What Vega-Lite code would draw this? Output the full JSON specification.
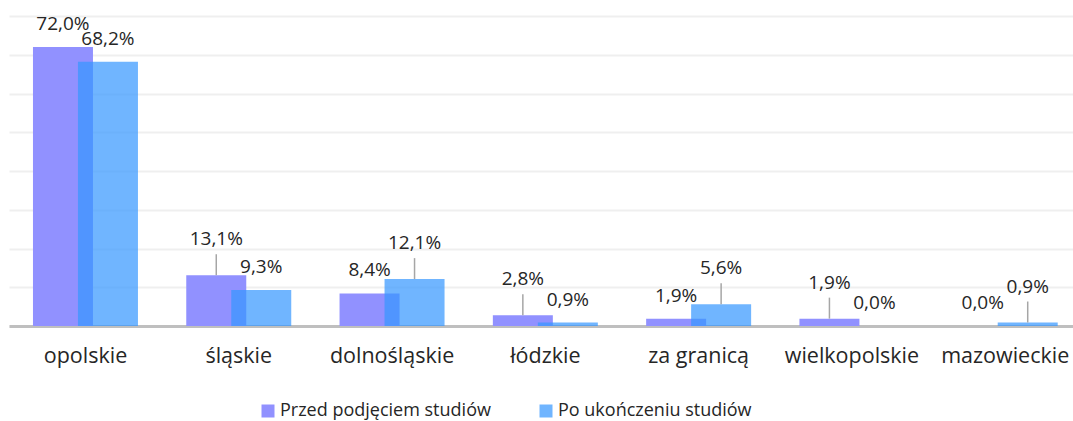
{
  "$schema": "https://vega.github.io/schema/vega-lite/v6.json",
  "width": 1064,
  "height": 310,
  "autosize": {"type": "none"},
  "padding": {"left": 9, "top": 16, "right": 0, "bottom": 95},
  "config": {
    "view": {"stroke": null},
    "font": "Open Sans",
    "locale": {"number": {"decimal": ",", "thousands": " ", "grouping": [3], "currency": ["", " zł"]}}
  },
  "data": {
    "values": [
      {"region": "opolskie", "series": "Przed podjęciem studiów", "value": 0.720},
      {"region": "śląskie", "series": "Przed podjęciem studiów", "value": 0.131},
      {"region": "dolnośląskie", "series": "Przed podjęciem studiów", "value": 0.084},
      {"region": "łódzkie", "series": "Przed podjęciem studiów", "value": 0.028},
      {"region": "za granicą", "series": "Przed podjęciem studiów", "value": 0.019},
      {"region": "wielkopolskie", "series": "Przed podjęciem studiów", "value": 0.019},
      {"region": "mazowieckie", "series": "Przed podjęciem studiów", "value": 0.000},
      {"region": "opolskie", "series": "Po ukończeniu studiów", "value": 0.682},
      {"region": "śląskie", "series": "Po ukończeniu studiów", "value": 0.093},
      {"region": "dolnośląskie", "series": "Po ukończeniu studiów", "value": 0.121},
      {"region": "łódzkie", "series": "Po ukończeniu studiów", "value": 0.009},
      {"region": "za granicą", "series": "Po ukończeniu studiów", "value": 0.056},
      {"region": "wielkopolskie", "series": "Po ukończeniu studiów", "value": 0.000},
      {"region": "mazowieckie", "series": "Po ukończeniu studiów", "value": 0.009}
    ]
  },
  "encoding": {
    "x": {
      "field": "region",
      "type": "nominal",
      "sort": null,
      "scale": {"paddingInner": 0.413, "paddingOuter": 0.177, "align": 0.58},
      "axis": {
        "title": null,
        "labelAngle": 0,
        "ticks": false,
        "labelFontSize": 21.5,
        "labelColor": "#262626",
        "labelPadding": 19,
        "domainColor": "#bfbfbf",
        "domainWidth": 3,
        "grid": false
      }
    },
    "xOffset": {
      "field": "series",
      "type": "nominal",
      "sort": ["Przed podjęciem studiów", "Po ukończeniu studiów"],
      "scale": {"paddingInner": 0, "paddingOuter": 0}
    },
    "y": {
      "field": "value",
      "type": "quantitative",
      "scale": {"domain": [0, 0.8]},
      "axis": {
        "values": [0, 0.1, 0.2, 0.3, 0.4, 0.5, 0.6, 0.7, 0.8],
        "labels": false,
        "ticks": false,
        "domain": false,
        "title": null,
        "gridColor": "#efefef",
        "gridWidth": 2
      }
    }
  },
  "layer": [
    {
      "mark": {"type": "bar", "width": 60},
      "encoding": {
        "color": {
          "field": "series",
          "type": "nominal",
          "sort": ["Przed podjęciem studiów", "Po ukończeniu studiów"],
          "scale": {"range": ["#9191ff", "rgba(54,151,255,0.71)"]},
          "legend": {
            "title": null,
            "orient": "none",
            "legendX": 250,
            "legendY": 386,
            "direction": "horizontal",
            "symbolType": "square",
            "symbolSize": 169,
            "symbolStrokeWidth": 0,
            "labelOffset": 3,
            "labelFontSize": 18,
            "labelColor": "#262626",
            "labelLimit": 400,
            "columnPadding": 46
          }
        }
      }
    },
    {
      "transform": [
        {"joinaggregate": [{"op": "max", "field": "value", "as": "maxv"}], "groupby": ["region"]},
        {"filter": "datum.value === datum.maxv && datum.value < 0.5"}
      ],
      "mark": {"type": "rule", "color": "#a6a6a6", "strokeWidth": 1.5, "y2Offset": -21},
      "encoding": {"y2": {"field": "value"}}
    },
    {
      "transform": [
        {"joinaggregate": [{"op": "max", "field": "value", "as": "maxv"}], "groupby": ["region"]},
        {"filter": "!(datum.value === datum.maxv && datum.value < 0.5)"}
      ],
      "mark": {"type": "text", "dy": -23, "baseline": "middle", "fontSize": 19, "color": "#262626"},
      "encoding": {"text": {"field": "value", "type": "quantitative", "format": ".1%"}}
    },
    {
      "transform": [
        {"joinaggregate": [{"op": "max", "field": "value", "as": "maxv"}], "groupby": ["region"]},
        {"filter": "datum.value === datum.maxv && datum.value < 0.5"}
      ],
      "mark": {"type": "text", "dy": -36, "baseline": "middle", "fontSize": 19, "color": "#262626"},
      "encoding": {"text": {"field": "value", "type": "quantitative", "format": ".1%"}}
    }
  ]
}
